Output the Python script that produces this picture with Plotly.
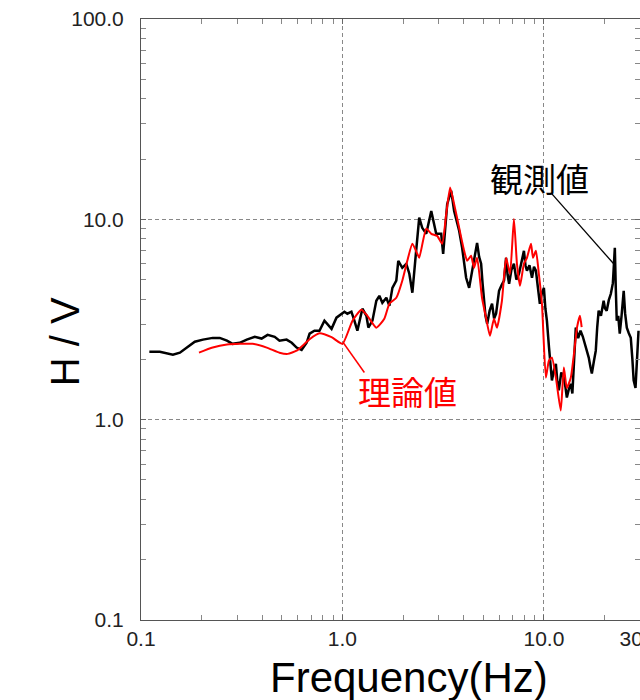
import math
import plotly.graph_objects as go

# Observed H/V spectral ratio
freq_obs = [0.110, 0.124, 0.144, 0.156, 0.169, 0.185, 0.203, 0.227, 0.246, 0.267,
            0.285, 0.309, 0.335, 0.367, 0.397, 0.425, 0.461, 0.487, 0.528, 0.560,
            0.592, 0.627, 0.664, 0.687, 0.726, 0.769, 0.814, 0.843, 0.883, 0.934,
            0.989, 1.023, 1.058, 1.108, 1.146, 1.186, 1.256, 1.315, 1.345, 1.409,
            1.473, 1.525, 1.578, 1.652, 1.710, 1.770, 1.851, 1.893, 1.982, 2.075,
            2.148, 2.224, 2.298, 2.352, 2.405, 2.489, 2.606, 2.760, 2.920, 3.092,
            3.162, 3.311, 3.465, 3.585, 3.796, 3.928, 4.111, 4.256, 4.457, 4.56,
            4.66, 4.77, 4.88, 4.96, 5.05, 5.13, 5.23, 5.38, 5.53, 5.66,
            5.79, 5.89, 5.99, 6.17, 6.34, 6.49, 6.60, 6.72, 6.90, 7.10,
            7.30, 7.52, 7.75, 7.96, 8.10, 8.24, 8.48, 8.73, 8.93, 9.13,
            9.33, 9.55, 9.78, 10.0, 10.17, 10.35, 10.6, 10.84, 10.96, 11.2,
            11.47, 11.66, 11.86, 12.2, 12.56, 12.8, 13.0, 13.3, 13.6, 13.85,
            14.1, 14.4, 14.8, 15.2, 15.6, 16.0, 16.35, 16.7, 17.0, 17.3,
            17.7, 18.1, 18.4, 18.7, 19.2, 19.8, 20.1, 20.5, 21.0, 21.5,
            22.0, 22.5, 22.75, 23.0, 23.4, 23.8, 24.3, 24.9, 25.3, 25.8,
            26.4, 27.0, 27.5, 27.9, 28.5, 29.0, 29.5]
hv_obs = [2.18, 2.18, 2.11, 2.16, 2.29, 2.45, 2.51, 2.56, 2.56, 2.48,
          2.39, 2.42, 2.51, 2.59, 2.54, 2.65, 2.59, 2.48, 2.51, 2.42,
          2.29, 2.23, 2.42, 2.69, 2.78, 2.78, 3.12, 3.01, 2.84, 3.23,
          3.38, 3.46, 3.38, 3.46, 3.12, 2.78, 3.58, 3.30, 2.88, 3.12,
          3.92, 4.15, 3.83, 4.06, 3.70, 4.55, 4.94, 6.21, 5.73, 6.00,
          5.35, 4.30, 6.21, 7.81, 10.2, 9.07, 8.47, 11.0, 8.47, 8.47,
          6.73, 11.9, 13.9, 11.0, 8.77, 7.21, 5.11, 4.55, 6.00, 6.60,
          7.63, 6.50, 6.00, 4.80, 3.79, 3.30, 3.01, 3.50, 3.79, 3.20,
          3.38, 4.00, 4.40, 4.70, 4.94, 6.43, 5.30, 4.77, 5.60, 6.00,
          5.00, 5.35, 6.30, 6.96, 5.90, 5.54, 5.90, 5.11, 5.80, 5.54,
          4.60, 3.79, 4.30, 4.55, 3.60, 3.12, 2.30, 1.76, 1.57, 1.75,
          1.90, 1.55, 1.40, 1.72, 1.62, 1.45, 1.29, 1.42, 1.51, 1.35,
          1.82, 2.88, 2.55, 2.78, 2.60, 2.39, 2.25, 2.04, 1.85, 1.70,
          1.95, 2.21, 2.90, 3.50, 3.30, 3.92, 3.60, 3.50, 3.95, 4.25,
          4.80, 7.21, 4.50, 3.12, 3.30, 2.69, 3.30, 4.40, 3.40, 2.88,
          2.70, 2.56, 2.00, 1.57, 1.44, 2.00, 2.78]

# Theoretical H/V ratio
freq_th = [0.194, 0.227, 0.267, 0.309, 0.358, 0.421, 0.487, 0.535, 0.592, 0.649,
           0.687, 0.769, 0.883, 1.0, 1.122, 1.242, 1.330, 1.473, 1.614, 1.710,
           1.851, 1.982, 2.099, 2.224, 2.352, 2.405, 2.606, 2.760, 2.952, 3.126,
           3.273, 3.425, 3.585, 3.796, 4.02, 4.16, 4.35, 4.50, 4.66, 4.93,
           5.16, 5.40, 5.65, 5.85, 6.19, 6.49, 6.79, 7.10, 7.35, 7.61,
           7.96, 8.24, 8.63, 8.83, 9.13, 9.44, 9.78, 10.23, 10.59, 10.96,
           11.47, 12.13, 12.56, 13.0, 13.6, 14.1, 14.6, 15.1, 15.4]
hv_th = [2.16, 2.29, 2.37, 2.39, 2.39, 2.29, 2.16, 2.13, 2.21, 2.39,
         2.52, 2.70, 2.58, 2.39, 3.12, 3.54, 3.30, 2.88, 3.19, 3.79,
         4.06, 4.94, 6.21, 7.55, 6.73, 6.43, 8.97, 8.47, 8.27, 7.55,
         10.6, 14.4, 11.9, 9.07, 6.96, 6.21, 6.58, 5.73, 6.43, 4.06,
         3.23, 2.62, 3.19, 2.88, 3.92, 6.43, 5.35, 10.05, 6.00, 4.66,
         6.00, 6.43, 7.55, 6.43, 6.96, 5.35, 3.79, 1.62, 1.97, 2.04,
         1.62, 1.11, 1.82, 1.44, 1.62, 2.13, 2.88, 3.30, 2.90]

x_tick_vals = [0.1, 1, 10, 30]
x_tick_text = ["0.1", "1.0", "10.0", "30.0"]
y_tick_vals = [0.1, 1, 10, 100]
y_tick_text = ["0.1", "1.0", "10.0", "100.0"]

# Leader lines from labels to curves (frequency, H/V)
leader_obs = ([10.96, 22.2], [13.4, 6.0])
leader_th = ([1.01, 1.285], [2.42, 1.72])

label_obs = "観測値"
label_th = "理論値"

minor_vals = [m * 10 ** e for e in range(-1, 2) for m in range(2, 10)]

fig = go.Figure()
fig.add_trace(go.Scatter(x=freq_obs, y=hv_obs, mode="lines",
                         line=dict(color="black", width=2.5), showlegend=False))
fig.add_trace(go.Scatter(x=freq_th, y=hv_th, mode="lines",
                         line=dict(color="#ff0000", width=2, shape="spline", smoothing=0.5),
                         showlegend=False))
fig.add_trace(go.Scatter(x=leader_obs[0], y=leader_obs[1], mode="lines",
                         line=dict(color="black", width=1.3), showlegend=False))
fig.add_trace(go.Scatter(x=leader_th[0], y=leader_th[1], mode="lines",
                         line=dict(color="#ff0000", width=1.5), showlegend=False))

tick_font = dict(family="Liberation Sans, Arial, sans-serif", size=21, color="#222")
cjk = "Noto Sans CJK JP, sans-serif"

axis_common = dict(
    type="log", showline=True, linecolor="#555", linewidth=1, mirror="ticks",
    ticks="inside", ticklen=5, tickcolor="#666", automargin=False,
    showgrid=True, gridcolor="#888", griddash="4px,3px", gridwidth=1,
    zeroline=False, tickfont=tick_font, ticklabeloverflow="allow",
    minor=dict(ticks="inside", ticklen=5, tickcolor="#888", tickvals=minor_vals, showgrid=False),
)

fig.update_xaxes(range=[-1, math.log10(30)], tickvals=x_tick_vals, ticktext=x_tick_text,
                 **axis_common)
fig.update_yaxes(range=[-1, 2], tickvals=y_tick_vals, ticktext=y_tick_text,
                 ticklabelstandoff=12, **axis_common)

# Curve labels, positioned in log10 axis units
fig.add_annotation(x=0.980, y=1.207, xref="x", yref="y", text=label_obs,
                   showarrow=False, font=dict(family=cjk, size=33, color="black"))
fig.add_annotation(x=0.322, y=0.145, xref="x", yref="y", text=label_th,
                   showarrow=False, font=dict(family=cjk, size=33, color="#ff0000"))

fig.add_annotation(x=0.537, y=-0.095, xref="paper", yref="paper", text="Frequency(Hz)",
                   showarrow=False, yanchor="middle",
                   font=dict(family="Liberation Sans, Arial, sans-serif", size=42, color="black"))
fig.add_annotation(x=-0.2, y=0.4626, xref="paper", yref="paper", text="H / V",
                   showarrow=False, textangle=-90,
                   font=dict(family="Liberation Sans, Arial, sans-serif", size=40, color="black"))

fig.update_layout(width=640, height=700, margin=dict(l=141, r=0, t=19, b=80),
                  plot_bgcolor="white", paper_bgcolor="white")

fig.write_html("out.html")
